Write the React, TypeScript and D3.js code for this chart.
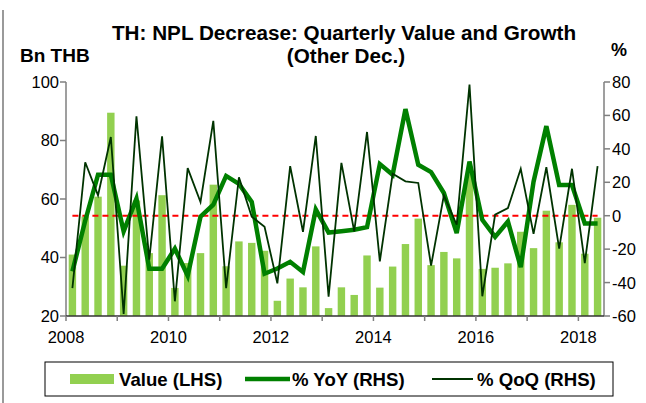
import React from "react";
import * as d3 from "d3";

// quarterly categories, 2008Q1 .. 2018Q2
const quarters = [
  "2008Q1", "2008Q2", "2008Q3", "2008Q4", "2009Q1", "2009Q2", "2009Q3", "2009Q4",
  "2010Q1", "2010Q2", "2010Q3", "2010Q4", "2011Q1", "2011Q2", "2011Q3", "2011Q4",
  "2012Q1", "2012Q2", "2012Q3", "2012Q4", "2013Q1", "2013Q2", "2013Q3", "2013Q4",
  "2014Q1", "2014Q2", "2014Q3", "2014Q4", "2015Q1", "2015Q2", "2015Q3", "2015Q4",
  "2016Q1", "2016Q2", "2016Q3", "2016Q4", "2017Q1", "2017Q2", "2017Q3", "2017Q4",
  "2018Q1", "2018Q2",
];

// Bn THB (LHS)
const valueLHS = [
  41.0, 54.0, 60.8, 89.5, 37.2, 59.5, 41.5, 61.3, 29.6, 38.1, 41.5, 64.9,
  37.0, 45.5, 45.0, 42.3, 25.2, 32.8, 29.8, 43.8, 22.7, 29.8, 27.2, 40.7,
  29.7, 36.9, 44.6, 53.3, 37.4, 41.9, 39.7, 68.5, 36.1, 36.5, 38.0, 48.8,
  43.2, 56.0, 45.2, 58.0, 41.3, 53.6,
];

// % YoY (RHS)
const yoyRHS = [
  -33.3, -3.0, 24.5, 24.5, -9.4, 10.2, -31.7, -31.7, -19.7, -35.9, -0.6, 6.6,
  23.8, 19.0, 8.3, -34.7, -31.6, -27.6, -33.7, 3.7, -10.1, -9.3, -8.4, -6.8,
  30.9, 24.5, 63.8, 30.5, 26.1, 13.6, -10.4, 32.4, -2.5, -12.7, -3.5, -30.8,
  20.3, 53.6, 18.4, 18.4, -4.6, -4.6,
];

// % QoQ (RHS)
const qoqRHS = [
  -43.3, 32.0, 12.2, 47.1, -58.8, 59.5, -26.3, 47.5, -51.2, 28.5, 8.2, 56.8,
  -43.3, 23.0, -0.6, -6.6, -40.5, 29.7, -9.6, 47.7, -48.5, 31.6, -9.4, 50.1,
  -27.3, 25.1, 20.6, 19.6, -29.9, 12.2, -5.4, 78.4, -48.2, 0.6, 4.6, 28.1,
  -10.9, 29.0, -19.7, 28.1, -28.3, 29.6,
];

const years = ["2008", "2009", "2010", "2011", "2012", "2013", "2014", "2015", "2016", "2017", "2018"];
const yearLabels = ["2008", "2010", "2012", "2014", "2016", "2018"];
const leftTicks = [20, 40, 60, 80, 100];
const rightTicks = [-60, -40, -20, 0, 20, 40, 60, 80];

const W = 646;
const H = 403;
const font = "'Liberation Sans', Arial, sans-serif";
const axisColor = "#7f7f7f";

export default function App() {
  const top = 82, bottom = 316, left = 66, right = 604;

  const x = d3.scaleBand<string>()
    .domain(quarters)
    .range([left, right])
    .paddingInner(0.42)
    .paddingOuter(0.21);
  const half = (x.step() - x.bandwidth()) / 2;
  const cx = (q: string) => (x(q) as number) + x.bandwidth() / 2;

  const yL = d3.scaleLinear().domain([20, 100]).range([bottom, top]);
  const yR = d3.scaleLinear().domain([-60, 80]).range([bottom, top]);

  const yoyLine = d3.line<number>()
    .x((_, i) => cx(quarters[i]))
    .y(d => yR(d));
  const qoqLine = d3.line<number>()
    .x((_, i) => cx(quarters[i]))
    .y(d => yR(d));

  const yearX = (yr: string) => (x(yr + "Q1") as number) - half;

  return (
    <div style={{ position: "absolute", left: 0, top: 0 }}>
      <svg width={W} height={H} style={{ display: "block", background: "#fff" }} fontFamily={font}>
        {/* outer frame edge */}
        <line x1={3} x2={3} y1={10} y2={H} stroke="#9a9a9a" strokeWidth={2} />

        {/* titles */}
        <text x={344} y={40} textAnchor="middle" fontSize={20.7} fontWeight="bold">
          TH: NPL Decrease: Quarterly Value and Growth
        </text>
        <text x={346} y={63} textAnchor="middle" fontSize={20.7} fontWeight="bold">
          (Other Dec.)
        </text>
        <text x={20} y={62} fontSize={19} fontWeight="bold">Bn THB</text>
        <text x={611} y={56} fontSize={18} fontWeight="bold">%</text>

        {/* bars */}
        {valueLHS.map((v, i) => (
          <rect key={quarters[i]} x={x(quarters[i])} y={yL(v)} width={x.bandwidth()}
            height={bottom - yL(v)} fill="#92D050" />
        ))}

        {/* zero line */}
        <line x1={cx(quarters[0])} x2={cx(quarters[quarters.length - 1])} y1={yR(0)} y2={yR(0)}
          stroke="#ff0000" strokeWidth={2} strokeDasharray="6,4" />

        {/* lines */}
        <path d={yoyLine(yoyRHS) || ""} fill="none" stroke="#008000" strokeWidth={4.5} strokeLinejoin="miter" />
        <path d={qoqLine(qoqRHS) || ""} fill="none" stroke="#003300" strokeWidth={1.8} strokeLinejoin="miter" />

        {/* left axis */}
        <line x1={left} x2={left} y1={top} y2={bottom} stroke={axisColor} strokeWidth={1.5} />
        {leftTicks.map(t => (
          <g key={"l" + t}>
            <line x1={left - 6} x2={left} y1={yL(t)} y2={yL(t)} stroke={axisColor} strokeWidth={1.5} />
            <text x={left - 7} y={yL(t)} dy="0.36em" textAnchor="end" fontSize={16.5}>{t}</text>
          </g>
        ))}

        {/* right axis */}
        <line x1={right} x2={right} y1={top} y2={bottom} stroke={axisColor} strokeWidth={1.5} />
        {rightTicks.map(t => (
          <g key={"r" + t}>
            <line x1={right} x2={right + 6} y1={yR(t)} y2={yR(t)} stroke={axisColor} strokeWidth={1.5} />
            <text x={right + 8} y={yR(t)} dy="0.36em" textAnchor="start" fontSize={16.5}>{t}</text>
          </g>
        ))}

        {/* bottom axis */}
        <line x1={left} x2={right} y1={bottom} y2={bottom} stroke="#333" strokeWidth={1.5} />
        {years.map(yr => (
          <line key={"t" + yr} x1={yearX(yr)} x2={yearX(yr)} y1={bottom} y2={bottom + 5}
            stroke={axisColor} strokeWidth={1.5} />
        ))}
        {yearLabels.map(yr => (
          <text key={"y" + yr} x={yearX(yr)} y={343} textAnchor="middle" fontSize={16.5}>{yr}</text>
        ))}

        {/* legend */}
        <rect x={45} y={362} width={568} height={34} fill="#fff" stroke="#000" strokeWidth={1} />
        <rect x={70} y={374} width={44} height={10} fill="#92D050" />
        <text x={119} y={386} fontSize={18.6} fontWeight="bold">Value (LHS)</text>
        <line x1={245} x2={290} y1={379} y2={379} stroke="#008000" strokeWidth={4.5} />
        <text x={292} y={386} fontSize={18.6} fontWeight="bold">% YoY (RHS)</text>
        <line x1={432} x2={473} y1={379} y2={379} stroke="#003300" strokeWidth={1.8} />
        <text x={477} y={386} fontSize={18.6} fontWeight="bold">% QoQ (RHS)</text>
      </svg>
    </div>
  );
}
